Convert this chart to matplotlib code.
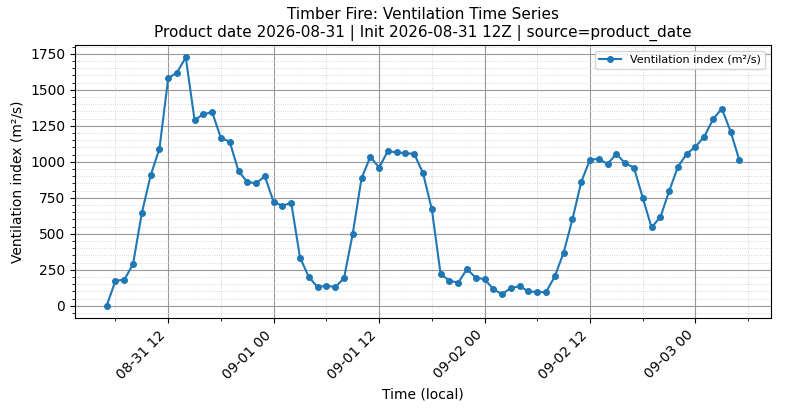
import matplotlib
matplotlib.use("Agg")
import matplotlib.pyplot as plt
import matplotlib.dates as mdates
from matplotlib.ticker import MultipleLocator
import pandas as pd

start = "2026-08-31 05:00"
values = [0,175,180,290,645,905,1090,1580,1620,1725,
          1290,1330,1345,1165,1140,935,860,850,900,720,
          695,715,335,200,130,140,130,190,500,885,
          1035,960,1075,1065,1060,1055,920,670,220,175,
          160,255,195,185,115,80,125,135,100,95,
          95,205,370,600,860,1015,1020,985,1055,990,
          960,750,545,615,795,965,1055,1105,1175,1295,
          1370,1210,1010]
times = pd.date_range(start, periods=len(values), freq="h")

fig, ax = plt.subplots(figsize=(7.9, 4.09), dpi=100)
ax.plot(times, values, marker="o", markersize=4, color="#1f77b4", label="Ventilation index (m²/s)")
ax.set_title("Timber Fire: Ventilation Time Series\nProduct date 2026-08-31 | Init 2026-08-31 12Z | source=product_date", fontsize=11)
ax.set_xlabel("Time (local)")
ax.set_ylabel("Ventilation index (m²/s)")
ax.xaxis.set_major_locator(mdates.HourLocator(byhour=[0, 12]))
ax.xaxis.set_major_formatter(mdates.DateFormatter("%m-%d %H"))
ax.xaxis.set_minor_locator(mdates.HourLocator(byhour=[6, 18]))
ax.yaxis.set_major_locator(MultipleLocator(250))
ax.yaxis.set_minor_locator(MultipleLocator(50))
ax.grid(which="major", color="#999999", linewidth=0.8)
ax.grid(which="minor", color="#cccccc", linestyle=":", linewidth=0.6)
plt.setp(ax.get_xticklabels(), rotation=45, ha="right")
ax.legend(loc="upper right", fontsize=8)
fig.subplots_adjust(left=0.095, right=0.976, top=0.89, bottom=0.222)
fig.savefig("out.png", dpi=100)
